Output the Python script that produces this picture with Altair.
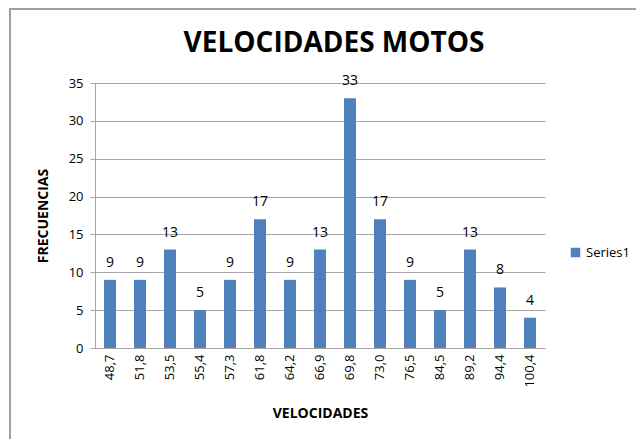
import altair as alt
import pandas as pd

categories = ["48,7", "51,8", "53,5", "55,4", "57,3", "61,8", "64,2", "66,9",
              "69,8", "73,0", "76,5", "84,5", "89,2", "94,4", "100,4"]
frequencies = [9, 9, 13, 5, 9, 17, 9, 13, 33, 17, 9, 5, 13, 8, 4]
series_name = "Series1"
chart_title = "VELOCIDADES MOTOS"

df = pd.DataFrame({"vel": categories, "freq": frequencies, "serie": series_name})

FONT = "Open Sans"
W, H = 450, 265

x_enc = alt.X("vel:N", sort=categories, scale=alt.Scale(paddingInner=0.6, paddingOuter=0.3),
              axis=alt.Axis(title="VELOCIDADES", labelAngle=-90, ticks=False,
                            labelFontSize=13, labelColor="#000000", labelFont=FONT,
                            titleFont=FONT, titleFontSize=14, titleFontWeight="bold",
                            titleColor="#000000", titlePadding=19, labelPadding=6,
                            domainColor="#a6a6a6", grid=False))
y_enc = alt.Y("freq:Q", scale=alt.Scale(domain=[0, 35]),
              axis=alt.Axis(title="FRECUENCIAS", values=[0, 5, 10, 15, 20, 25, 30, 35],
                            labelFontSize=13, labelColor="#000000", labelFont=FONT,
                            labelOverlap=False,
                            titleFont=FONT, titleFontSize=14, titleFontWeight="bold",
                            titleColor="#000000", titlePadding=18, labelPadding=7,
                            tickSize=5, tickColor="#a6a6a6", domainColor="#a6a6a6",
                            gridColor="#a6a6a6", grid=True))

border_left = alt.Chart(df).mark_rule(stroke="#a0a0a0", strokeWidth=2).encode(
    x=alt.value(-85), y=alt.value(-74), y2=alt.value(500)
)
border_top = alt.Chart(df).mark_rule(stroke="#a0a0a0", strokeWidth=2).encode(
    x=alt.value(-86), x2=alt.value(700), y=alt.value(-74)
)

title = alt.Chart(pd.DataFrame({"t": [chart_title]})).mark_text(
    font=FONT, fontSize=28, fontWeight="bold", color="#000000", baseline="alphabetic"
).encode(x=alt.value(239), y=alt.value(-31), text="t:N")

bars = alt.Chart(df).mark_bar(size=12).encode(
    x=x_enc, y=y_enc,
    color=alt.Color("serie:N", scale=alt.Scale(range=["#4f81bd"]),
                    legend=alt.Legend(title=None, orient="none", legendX=474, legendY=163,
                                      symbolType="square", symbolSize=90,
                                      labelFontSize=13, labelFont=FONT, labelColor="#000000"))
)

labels = alt.Chart(df).mark_text(dy=-17, fontSize=14, font=FONT, color="#000000").encode(
    x=x_enc, y=y_enc, text="freq:Q"
)

chart = alt.layer(border_left, border_top, title, bars, labels).properties(
    width=W, height=H,
    autosize=alt.AutoSizeParams(type="none"),
    padding={"left": 87, "top": 75, "right": 91, "bottom": 91},
).configure_view(stroke=None)

chart.save("out.html", embed_options={"renderer": "svg", "actions": False})
